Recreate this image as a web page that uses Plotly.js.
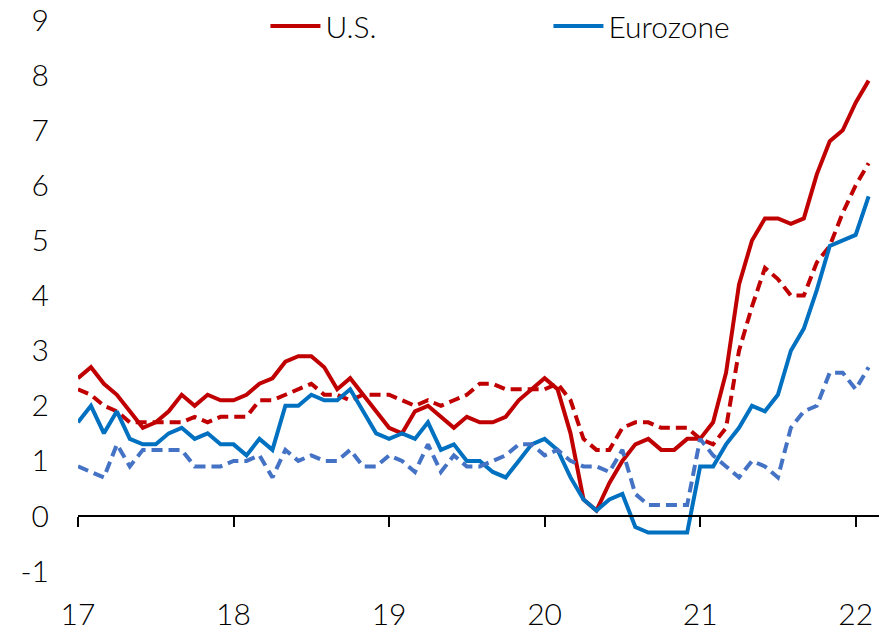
<!DOCTYPE html>
<html>
<head>
<meta charset="utf-8">
<script src="https://cdn.plot.ly/plotly-3.0.1.min.js"></script>
<style>html,body{margin:0;padding:0;background:#fff;}#chart{width:883px;height:627px;}</style>
</head>
<body>
<div id="chart"></div>
<script>
// Monthly, Jan 2017 .. Feb 2022 (x expressed as year-2000 + month/12)
var startYear = 17;
var usHeadline = [
  2.5, 2.7, 2.4, 2.2, 1.9, 1.6, 1.7, 1.9, 2.2, 2.0, 2.2, 2.1,
  2.1, 2.2, 2.4, 2.5, 2.8, 2.9, 2.9, 2.7, 2.3, 2.5, 2.2, 1.9,
  1.6, 1.5, 1.9, 2.0, 1.8, 1.6, 1.8, 1.7, 1.7, 1.8, 2.1, 2.3,
  2.5, 2.3, 1.5, 0.3, 0.1, 0.6, 1.0, 1.3, 1.4, 1.2, 1.2, 1.4,
  1.4, 1.7, 2.6, 4.2, 5.0, 5.4, 5.4, 5.3, 5.4, 6.2, 6.8, 7.0,
  7.5, 7.9
];
var usCore = [
  2.3, 2.2, 2.0, 1.9, 1.7, 1.7, 1.7, 1.7, 1.7, 1.8, 1.7, 1.8,
  1.8, 1.8, 2.1, 2.1, 2.2, 2.3, 2.4, 2.2, 2.2, 2.1, 2.2, 2.2,
  2.2, 2.1, 2.0, 2.1, 2.0, 2.1, 2.2, 2.4, 2.4, 2.3, 2.3, 2.3,
  2.3, 2.4, 2.1, 1.4, 1.2, 1.2, 1.6, 1.7, 1.7, 1.6, 1.6, 1.6,
  1.4, 1.3, 1.6, 3.0, 3.8, 4.5, 4.3, 4.0, 4.0, 4.6, 4.9, 5.5,
  6.0, 6.4
];
var ezHeadline = [
  1.7, 2.0, 1.5, 1.9, 1.4, 1.3, 1.3, 1.5, 1.6, 1.4, 1.5, 1.3,
  1.3, 1.1, 1.4, 1.2, 2.0, 2.0, 2.2, 2.1, 2.1, 2.3, 1.9, 1.5,
  1.4, 1.5, 1.4, 1.7, 1.2, 1.3, 1.0, 1.0, 0.8, 0.7, 1.0, 1.3,
  1.4, 1.2, 0.7, 0.3, 0.1, 0.3, 0.4, -0.2, -0.3, -0.3, -0.3, -0.3,
  0.9, 0.9, 1.3, 1.6, 2.0, 1.9, 2.2, 3.0, 3.4, 4.1, 4.9, 5.0,
  5.1, 5.8
];
var ezCore = [
  0.9, 0.8, 0.7, 1.3, 0.9, 1.2, 1.2, 1.2, 1.2, 0.9, 0.9, 0.9,
  1.0, 1.0, 1.1, 0.7, 1.2, 1.0, 1.1, 1.0, 1.0, 1.2, 0.9, 0.9,
  1.1, 1.0, 0.8, 1.3, 0.8, 1.1, 0.9, 0.9, 1.0, 1.1, 1.3, 1.3,
  1.1, 1.2, 1.0, 0.9, 0.9, 0.8, 1.2, 0.4, 0.2, 0.2, 0.2, 0.2,
  1.4, 1.1, 0.9, 0.7, 1.0, 0.9, 0.7, 1.6, 1.9, 2.0, 2.6, 2.6,
  2.3, 2.7
];
var xTickVals = [17, 18, 19, 20, 21, 22];
var xTickText = ['17', '18', '19', '20', '21', '22'];
var yTickVals = [-1, 0, 1, 2, 3, 4, 5, 6, 7, 8, 9];
var yTickText = ['-1', '0', '1', '2', '3', '4', '5', '6', '7', '8', '9'];

var months = usHeadline.map(function (_, i) { return startYear + i / 12; });

var RED = '#C00000', BLUE = '#0070C0', LBLUE = '#4472C4';
var FONT = 'Lato, "Open Sans", sans-serif';
var TXT = {family: FONT, size: 30, color: '#000', weight: 300};
var yMin = -1.415, yMax = 9.363;

var traces = [
  {x: months, y: usHeadline, name: 'U.S.', mode: 'lines', line: {color: RED, width: 4}},
  {x: months, y: usCore, name: 'U.S. core', mode: 'lines', showlegend: false, line: {color: RED, width: 4, dash: '11px,6px'}},
  {x: months, y: ezHeadline, name: 'Eurozone', mode: 'lines', line: {color: BLUE, width: 4}},
  {x: months, y: ezCore, name: 'Eurozone core', mode: 'lines', showlegend: false, line: {color: LBLUE, width: 4, dash: '11px,6px'}},
  {x: [], y: [], xaxis: 'x2', yaxis: 'y', showlegend: false, hoverinfo: 'skip', mode: 'lines'}
];

var layout = {
  width: 883, height: 627,
  margin: {l: 78, r: 4, t: 0, b: 33},
  paper_bgcolor: '#fff', plot_bgcolor: '#fff',
  font: TXT,
  showlegend: true,
  legend: {orientation: 'h', x: 0.234, xanchor: 'left', y: 1.0, yanchor: 'top',
           font: TXT, bgcolor: 'rgba(0,0,0,0)',
           itemwidth: 50, entrywidth: 218, tracegroupgap: 0},
  xaxis: {range: [17, 22.15], tickvals: xTickVals, ticktext: xTickText,
          showgrid: false, zeroline: false, showline: false, ticks: '',
          ticklabelstandoff: 0, tickfont: TXT},
  xaxis2: {overlaying: 'x', matches: 'x', anchor: 'free', position: (0 - yMin) / (yMax - yMin),
           showgrid: false, zeroline: false, showline: true, linecolor: '#000', linewidth: 2,
           ticks: 'outside', ticklen: 10, tickwidth: 2, tickcolor: '#000',
           tickvals: xTickVals, showticklabels: false},
  yaxis: {range: [yMin, yMax], tickvals: yTickVals, ticktext: yTickText,
          showgrid: false, zeroline: false,
          showline: false, ticks: '', ticklabelstandoff: 28, tickfont: TXT}
};

Plotly.newPlot('chart', traces, layout, {staticPlot: true});
</script>
</body>
</html>
